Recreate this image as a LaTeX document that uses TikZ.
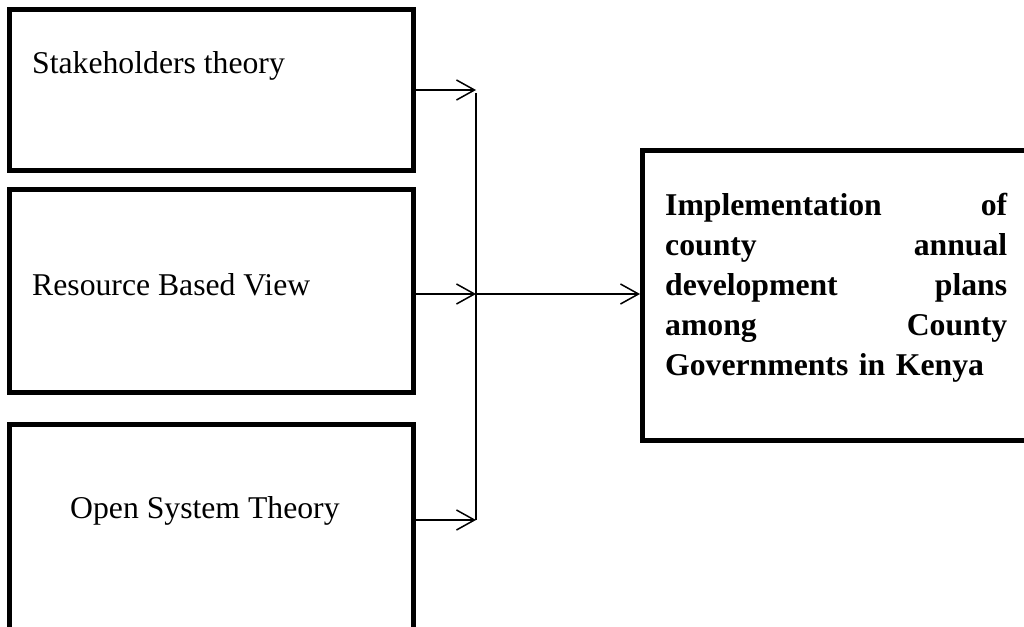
\documentclass[tikz,border=0pt]{standalone}
\usepackage{fontspec}
\setmainfont{Liberation Serif}
\usetikzlibrary{arrows.meta}
\begin{document}
\begin{tikzpicture}[x=1pt,y=-1pt,
  thickbox/.style={draw=black,line width=5pt,rectangle,inner sep=0pt},
  lbl/.style={inner sep=0pt,anchor=base west,font=\fontsize{31.7}{40}\selectfont},
  arr/.style={line width=1.5pt,-{Straight Barb[length=18pt,width=20pt,line width=1.5pt]}},
  conn/.style={line width=1.5pt}]
\useasboundingbox (0,0) rectangle (1024,626);
\clip (0,0) rectangle (1024,626);
\fill[white] (0,0) rectangle (1024,626);
% boxes
\node[thickbox,minimum width=404pt,minimum height=161pt] (s1) at (211.5,90) {};
\node[thickbox,minimum width=404pt,minimum height=203pt] (s2) at (211.5,291) {};
\node[thickbox,minimum width=404pt,minimum height=215.5pt] (s3) at (211.5,532.25) {};
\node[thickbox,minimum width=397.5pt,minimum height=290pt] (out) at (841.25,295.5) {};
% labels
\node[lbl] (t1) at (32,73.5) {Stakeholders theory};
\node[lbl] (t2) at (32,295) {Resource Based View};
\node[lbl] (t3) at (70,518) {Open System Theory};
\node[inner sep=0pt,anchor=north west,text width=342pt,align=left,
      font=\fontsize{31.7}{40}\selectfont\bfseries] (t4) at (665,187)
  {\strut Implementation\hfill of\\
   county\hfill annual\\
   development\hfill plans\\
   among\hfill County\\
   Governments in Kenya};
% connectors
\coordinate (top) at (476,93);
\coordinate (bot) at (476,520);
\coordinate (mid) at (476,294);
\draw[conn] (top) -- (bot);
\draw[arr] (s1.east) -- (s1.east -| top);
\draw[arr] (s2.east |- mid) -- (mid);
\draw[arr] (s3.east |- bot) -- (bot);
\draw[arr] (mid) -- (out.west |- mid);
\end{tikzpicture}
\end{document}
